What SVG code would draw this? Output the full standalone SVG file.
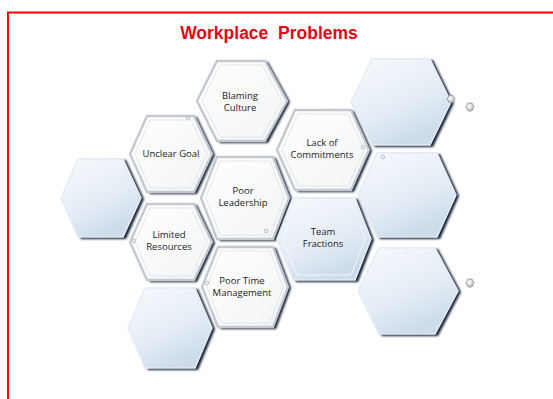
<svg xmlns="http://www.w3.org/2000/svg" width="553" height="399" viewBox="0 0 553 399">
<style>
.title{font-family:"Liberation Sans",Arial,sans-serif;font-weight:bold;font-size:17.5px;fill:#e30613;text-anchor:middle;white-space:pre}
.lbl{font-family:"Open Sans","Liberation Sans",sans-serif;font-size:9.5px;fill:#222;text-anchor:middle}
.shadow{fill:#152238;filter:url(#blur)}
.white{fill:url(#gw);stroke:#c4c9cf;stroke-width:2.4}
.blue{fill:url(#gb);stroke:#e4ecf4;stroke-width:1.5}
.innerw{fill:none;stroke:#e4e7ea;stroke-width:1}
.innerb{fill:none;stroke:#f3f7fb;stroke-width:1}
.nut{fill:url(#gn);stroke:#8f959b;stroke-width:0.8}
.dot{fill:#eef0f2;stroke:#a9aeb4;stroke-width:0.7}
</style>
<defs>
<filter id="blur" x="-20%" y="-20%" width="140%" height="140%"><feGaussianBlur stdDeviation="0.9"/></filter>
<linearGradient id="gw" x1="0" y1="0" x2="1" y2="1"><stop offset="0" stop-color="#ffffff"/><stop offset="1" stop-color="#f2f4f6"/></linearGradient>
<linearGradient id="gb" x1="0" y1="0" x2="0.5" y2="1"><stop offset="0" stop-color="#f7fafd"/><stop offset="0.65" stop-color="#e3ecf5"/><stop offset="1" stop-color="#cddbea"/></linearGradient>
<radialGradient id="gn" cx="0.4" cy="0.4" r="0.7"><stop offset="0" stop-color="#ffffff"/><stop offset="1" stop-color="#a9afb5"/></radialGradient>
</defs>
<rect x="8" y="12.5" width="600" height="500" fill="none" stroke="#ff0000" stroke-width="2"/>
<text class="title" x="269" y="39" xml:space="preserve">Workplace  Problems</text>

<g id="hex-left-empty">
<polygon class="shadow" points="64,199 81,160 126,160 144,199 126,239 81,239"/>
<polygon class="blue" points="61,198 78,159 123,159 141,198 123,237 78,237"/>
</g>
<g id="hex-unclear-goal">
<polygon class="shadow" points="133,155 150,117 197,117 215,155 197,194 150,194"/>
<polygon class="white" points="130,154 147,116 194,116 212,154 194,192 147,192"/>
<polygon class="innerw" points="135,154 150,120 191,120 207,154 191,188 150,188"/>
<text class="lbl" x="171" y="157">Unclear Goal</text>
</g>
<g id="hex-limited-resources">
<polygon class="shadow" points="133,243 150,205 197,205 215,243 197,282 150,282"/>
<polygon class="white" points="130,242 147,204 194,204 212,242 194,280 147,280"/>
<polygon class="innerw" points="135,242 150,208 191,208 207,242 191,276 150,276"/>
<text class="lbl" x="169" y="238">Limited</text>
<text class="lbl" x="169" y="250">Resources</text>
</g>
<g id="hex-bottom-left-empty">
<polygon class="shadow" points="131,329 148,289 198,289 215,329 198,370 148,370"/>
<polygon class="blue" points="128,328 145,288 195,288 212,328 195,368 145,368"/>
</g>
<g id="hex-blaming-culture">
<polygon class="shadow" points="200,102 220,62 268,62 290,102 268,143 220,143"/>
<polygon class="white" points="197,101 217,61 265,61 287,101 265,141 217,141"/>
<polygon class="innerw" points="202,101 220,65 262,65 282,101 262,137 220,137"/>
<text class="lbl" x="240" y="99">Blaming</text>
<text class="lbl" x="240" y="111">Culture</text>
</g>
<g id="hex-poor-leadership">
<polygon class="shadow" points="204,199 220,158 276,158 292,199 276,241 220,241"/>
<polygon class="white" points="201,198 217,157 273,157 289,198 273,239 217,239"/>
<polygon class="innerw" points="206,198 220,161 270,161 284,198 270,235 220,235"/>
<text class="lbl" x="243" y="194">Poor</text>
<text class="lbl" x="243" y="206">Leadership</text>
</g>
<g id="hex-poor-time">
<polygon class="shadow" points="205,288 221,248 276,248 291,288 276,329 221,329"/>
<polygon class="white" points="202,287 218,247 273,247 288,287 273,327 218,327"/>
<polygon class="innerw" points="207,287 221,251 270,251 283,287 270,323 221,323"/>
<text class="lbl" x="242" y="284">Poor Time</text>
<text class="lbl" x="242" y="296">Management</text>
</g>
<g id="hex-lack-of-commitments">
<polygon class="shadow" points="280,151 298,111 354,111 372,151 354,192 298,192"/>
<polygon class="white" points="277,150 295,110 351,110 369,150 351,190 295,190"/>
<polygon class="innerw" points="282,150 298,114 348,114 364,150 348,186 298,186"/>
<text class="lbl" x="322" y="146">Lack of</text>
<text class="lbl" x="322" y="158">Commitments</text>
</g>
<g id="hex-team-fractions">
<polygon class="shadow" points="280,240 296,199 358,199 374,240 358,282 296,282"/>
<polygon class="blue" points="277,239 293,198 355,198 371,239 355,280 293,280"/>
<polygon class="innerb" points="283,239 297,203 351,203 365,239 351,275 297,275"/>
<text class="lbl" x="323" y="235">Team</text>
<text class="lbl" x="323" y="247">Fractions</text>
</g>
<g id="hex-top-right">
<polygon class="shadow" points="354,103 375,60 433,60 454,103 433,147 375,147"/>
<polygon class="blue" points="351,102 372,59 430,59 451,102 430,145 372,145"/>
</g>
<g id="hex-mid-right">
<polygon class="shadow" points="361,196 380,154 440,154 459,196 440,239 380,239"/>
<polygon class="blue" points="358,195 377,153 437,153 456,195 437,237 377,237"/>
</g>
<g id="hex-bottom-right">
<polygon class="shadow" points="361,292 382,249 438,249 461,292 438,336 382,336"/>
<polygon class="blue" points="358,291 379,248 435,248 458,291 435,334 379,334"/>
</g>
<g id="decor">
<polygon class="nut" points="447,99 449,95.5 453,95.5 455,99 453,102.5 449,102.5"/>
<polygon class="nut" points="466,107 468,103 472,103 474,107 472,111 468,111"/>
<polygon class="nut" points="466,283 468,279 472,279 474,283 472,287 468,287"/>
<circle class="dot" cx="188" cy="118" r="1.8"/>
<circle class="dot" cx="134" cy="241" r="1.8"/>
<circle class="dot" cx="266" cy="231" r="1.8"/>
<circle class="dot" cx="207" cy="283" r="1.8"/>
<circle class="dot" cx="363" cy="147" r="1.8"/>
<circle class="dot" cx="383" cy="157" r="1.8"/>
</g>
</svg>
